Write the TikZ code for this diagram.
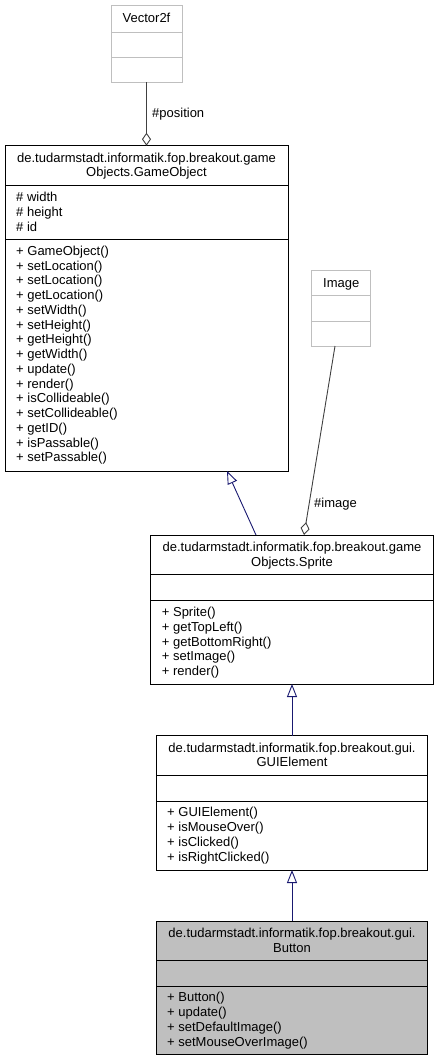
\documentclass[tikz,border=0pt]{standalone}
\usepackage{fontspec}
\setmainfont{Liberation Sans}
\usetikzlibrary{arrows.meta,calc}
\definecolor{navyedge}{HTML}{191970}
\definecolor{aggedge}{HTML}{404040}
\definecolor{ghost}{HTML}{BFBFBF}
\definecolor{hilite}{HTML}{BFBFBF}
\begin{document}
\begin{tikzpicture}[x=1pt,y=-1pt,font=\fontsize{13}{15}\selectfont,
  cls/.style={draw=black,line width=0.9pt,inner sep=0,outer sep=0,anchor=north west},
  ghostcls/.style={draw=ghost,line width=0.9pt,inner sep=0,outer sep=0,anchor=north west},
  divider/.style={draw=black,line width=0.9pt},
  ghostdiv/.style={draw=ghost,line width=0.9pt},
  txt/.style={inner sep=0,anchor=base west},
  ttl/.style={inner sep=0,anchor=base},
  gen/.style={draw=navyedge,line width=0.9pt,-{Triangle[open,length=13pt,width=10pt]}},
  agg/.style={draw=aggedge,line width=0.9pt,-{Diamond[open,length=13pt,width=9pt]}}]
\useasboundingbox (0,0) rectangle (439,1061);

% ---------- Vector2f ----------
\node[ghostcls,minimum width=71pt,minimum height=77pt] (vec) at (111,5) {};
\draw[ghostdiv] (vec.north west) ++(0,27) -- ++(71,0);
\draw[ghostdiv] (vec.north west) ++(0,52) -- ++(71,0);
\node[ttl] (vecname) at (146.5,22.8) {Vector2f};

% ---------- Image ----------
\node[ghostcls,minimum width=59pt,minimum height=75.3pt] (img) at (311.7,270.7) {};
\draw[ghostdiv] (img.north west) ++(0,24.3) -- ++(59,0);
\draw[ghostdiv] (img.north west) ++(0,50.3) -- ++(59,0);
\node[ttl] (imgname) at (341.2,287.2) {Image};

% ---------- GameObject ----------
\node[cls,minimum width=283pt,minimum height=325.3pt] (go) at (5,145.7) {};
\draw[divider] (go.north west) ++(0,40) -- ++(283,0);
\draw[divider] (go.north west) ++(0,93.8) -- ++(283,0);
\node[ttl] (got1) at (146.5,162.2) {de.tudarmstadt.informatik.fop.breakout.game};
\node[ttl] (got2) at (146.5,176.7) {Objects.GameObject};
\foreach \t [count=\i from 0] in {\# width,\# height,\# id}
  \node[txt] (goa\i) at (16,{201.5+14.75*\i}) {\t};
\foreach \t [count=\i from 0] in {+ GameObject(),+ setLocation(),+ setLocation(),+ getLocation(),+ setWidth(),+ setHeight(),+ getHeight(),+ getWidth(),+ update(),+ render(),+ isCollideable(),+ setCollideable(),+ getID(),+ isPassable(),+ setPassable()}
  \node[txt] (gom\i) at (16,{255.3+14.75*\i}) {\t};

% ---------- Sprite ----------
\node[cls,minimum width=282.6pt,minimum height=149pt] (spr) at (150.7,535) {};
\draw[divider] (spr.north west) ++(0,39) -- ++(282.6,0);
\draw[divider] (spr.north west) ++(0,65.7) -- ++(282.6,0);
\node[ttl] (sprt1) at (292,551.5) {de.tudarmstadt.informatik.fop.breakout.game};
\node[ttl] (sprt2) at (292,566) {Objects.Sprite};
\foreach \t [count=\i from 0] in {+ Sprite(),+ getTopLeft(),+ getBottomRight(),+ setImage(),+ render()}
  \node[txt] (sprm\i) at (161.7,{616.5+14.75*\i}) {\t};

% ---------- GUIElement ----------
\node[cls,minimum width=270.6pt,minimum height=134.3pt] (gui) at (156.7,735.7) {};
\draw[divider] (gui.north west) ++(0,39.3) -- ++(270.6,0);
\draw[divider] (gui.north west) ++(0,65.3) -- ++(270.6,0);
\node[ttl] (guit1) at (292,752.2) {de.tudarmstadt.informatik.fop.breakout.gui.};
\node[ttl] (guit2) at (292,766.7) {GUIElement};
\foreach \t [count=\i from 0] in {+ GUIElement(),+ isMouseOver(),+ isClicked(),+ isRightClicked()}
  \node[txt] (guim\i) at (167,{816.8+14.75*\i}) {\t};

% ---------- Button ----------
\node[cls,fill=hilite,minimum width=270.6pt,minimum height=133.3pt] (btn) at (156.7,921) {};
\draw[divider] (btn.north west) ++(0,39) -- ++(270.6,0);
\draw[divider] (btn.north west) ++(0,65) -- ++(270.6,0);
\node[ttl] (btnt1) at (292,937.5) {de.tudarmstadt.informatik.fop.breakout.gui.};
\node[ttl] (btnt2) at (292,952) {Button};
\foreach \t [count=\i from 0] in {+ Button(),+ update(),+ setDefaultImage(),+ setMouseOverImage()}
  \node[txt] (btnm\i) at (167,{1001.8+14.75*\i}) {\t};

% ---------- connectors ----------
\draw[agg] (vec.south) -- (vec.south |- go.north);
\node[txt] (poslbl) at (152,117.5) {\#position};
\draw[agg] ($(img.south west)!0.395!(img.south east)$) -- ($(spr.north west)!0.5425!(spr.north east)$);
\node[txt] (imglbl) at (314,507.5) {\#image};
\draw[gen] ($(spr.north west)!0.3726!(spr.north east)$) -- ($(go.south west)!0.7845!(go.south east)$);
\draw[gen] (gui.north) -- (gui.north |- spr.south);
\draw[gen] (btn.north) -- (gui.south);
\end{tikzpicture}
\end{document}
